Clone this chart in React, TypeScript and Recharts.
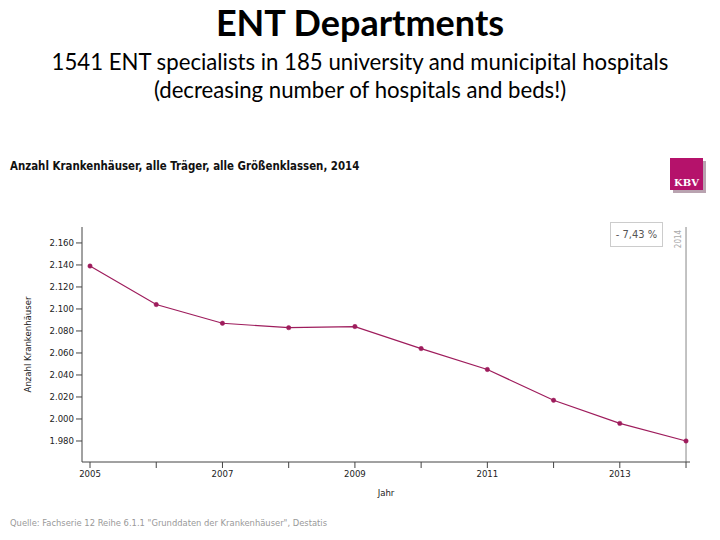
import React from "react";
import { LineChart, Line, XAxis, YAxis, ReferenceLine } from "recharts";

const years = [2005, 2006, 2007, 2008, 2009, 2010, 2011, 2012, 2013, 2014];
const hospitals = [2139, 2104, 2087, 2083, 2084, 2064, 2045, 2017, 1996, 1980];
const yTicks = [1980, 2000, 2020, 2040, 2060, 2080, 2100, 2120, 2140, 2160];

const data = years.map((y, i) => ({ year: y, value: hospitals[i] }));

const LINE = "#9e1c5c";
const AXIS = "#444";
const chartFont = "'DejaVu Sans Condensed', 'DejaVu Sans', sans-serif";

const fmtThousands = (v: number) => {
  const s = String(v);
  return s.length > 3 ? s.slice(0, s.length - 3) + "." + s.slice(s.length - 3) : s;
};

export default function App() {
  return (
    <div style={{ position: "absolute", left: 0, top: 0, width: 720, height: 540, background: "#fff", overflow: "hidden" }}>
      <div style={{ position: "absolute", left: 0, top: 1, width: 720, textAlign: "center", fontFamily: "Lato, 'Open Sans', sans-serif", fontWeight: 700, fontSize: 36, color: "#000", lineHeight: "42px" }}>
        ENT Departments
      </div>
      <div style={{ position: "absolute", left: 0, top: 48, width: 720, textAlign: "center", fontFamily: "Lato, 'Open Sans', sans-serif", fontSize: 22.2, color: "#000", lineHeight: "28px" }}>
        1541 ENT specialists in 185 university and municipital hospitals
        <br />
        (decreasing number of hospitals and beds!)
      </div>
      <div style={{ position: "absolute", left: 10, top: 159, fontFamily: chartFont, fontWeight: 700, fontSize: 11.4, color: "#111" }}>
        Anzahl Krankenhäuser, alle Träger, alle Größenklassen, 2014
      </div>
      <div style={{ position: "absolute", left: 670, top: 158, width: 33, height: 32, background: "#b5126b", boxShadow: "3px 3px 0 #b9a3b0", color: "#fff", fontFamily: "'DejaVu Serif', serif", fontWeight: 700, fontSize: 10, textAlign: "center", lineHeight: "14px", paddingTop: 18, boxSizing: "border-box" }}>
        KBV
      </div>
      <div style={{ position: "absolute", left: 610, top: 222, width: 53, height: 25, border: "1px solid #ccc", boxSizing: "border-box", fontFamily: chartFont, fontSize: 11, color: "#555", textAlign: "center", lineHeight: "23px" }}>
        - 7,43 %
      </div>
      <div style={{ position: "absolute", left: 10, top: 517, fontFamily: chartFont, fontSize: 9.3, color: "#999" }}>
        Quelle: Fachserie 12 Reihe 6.1.1 "Grunddaten der Krankenhäuser", Destatis
      </div>
      <div style={{ position: "absolute", left: 0, top: 0 }}>
        <LineChart width={720} height={540} data={data} margin={{ top: 227, right: 30, bottom: 38, left: 22 }}>
          <XAxis
            dataKey="year"
            type="number"
            domain={[2004.879, 2014.06]}
            ticks={years}
            allowDataOverflow
            tickFormatter={(v: number) => (v % 2 === 1 ? String(v) : "")}
            tick={{ fontSize: 9.5, fill: "#222", fontFamily: chartFont }}
            stroke={AXIS}
            tickSize={6}
            tickLine={{ stroke: AXIS }}
            height={40}
            label={{ value: "Jahr", position: "insideBottom", offset: 6, fontSize: 9.5, fill: "#222", fontFamily: chartFont }}
          />
          <YAxis
            type="number"
            domain={[1960.9, 2174.5]}
            ticks={yTicks}
            allowDataOverflow
            tickFormatter={fmtThousands}
            tick={{ fontSize: 9.5, fill: "#222", fontFamily: chartFont }}
            stroke={AXIS}
            tickSize={6}
            width={60}
            label={{ value: "Anzahl Krankenhäuser", angle: -90, position: "insideLeft", offset: 6, fontSize: 9.5, fill: "#222", fontFamily: chartFont, style: { textAnchor: "middle" } }}
          />
          <ReferenceLine
            x={2014}
            stroke="#888"
            strokeWidth={1}
            label={(props: any) => {
              const vb = props.viewBox || {};
              const x = (vb.x ?? 686) - 5;
              const y = (vb.y ?? 227) + 12;
              return (
                <text x={x} y={y} transform={`rotate(-90 ${x} ${y})`} textAnchor="middle" fontSize={8} fill="#aaa" fontFamily={chartFont}>
                  2014
                </text>
              );
            }}
          />
          <Line
            type="linear"
            dataKey="value"
            stroke={LINE}
            strokeWidth={1.2}
            dot={{ r: 2.2, fill: LINE, stroke: LINE, strokeWidth: 0.5 }}
            isAnimationActive={false}
          />
        </LineChart>
      </div>
    </div>
  );
}
